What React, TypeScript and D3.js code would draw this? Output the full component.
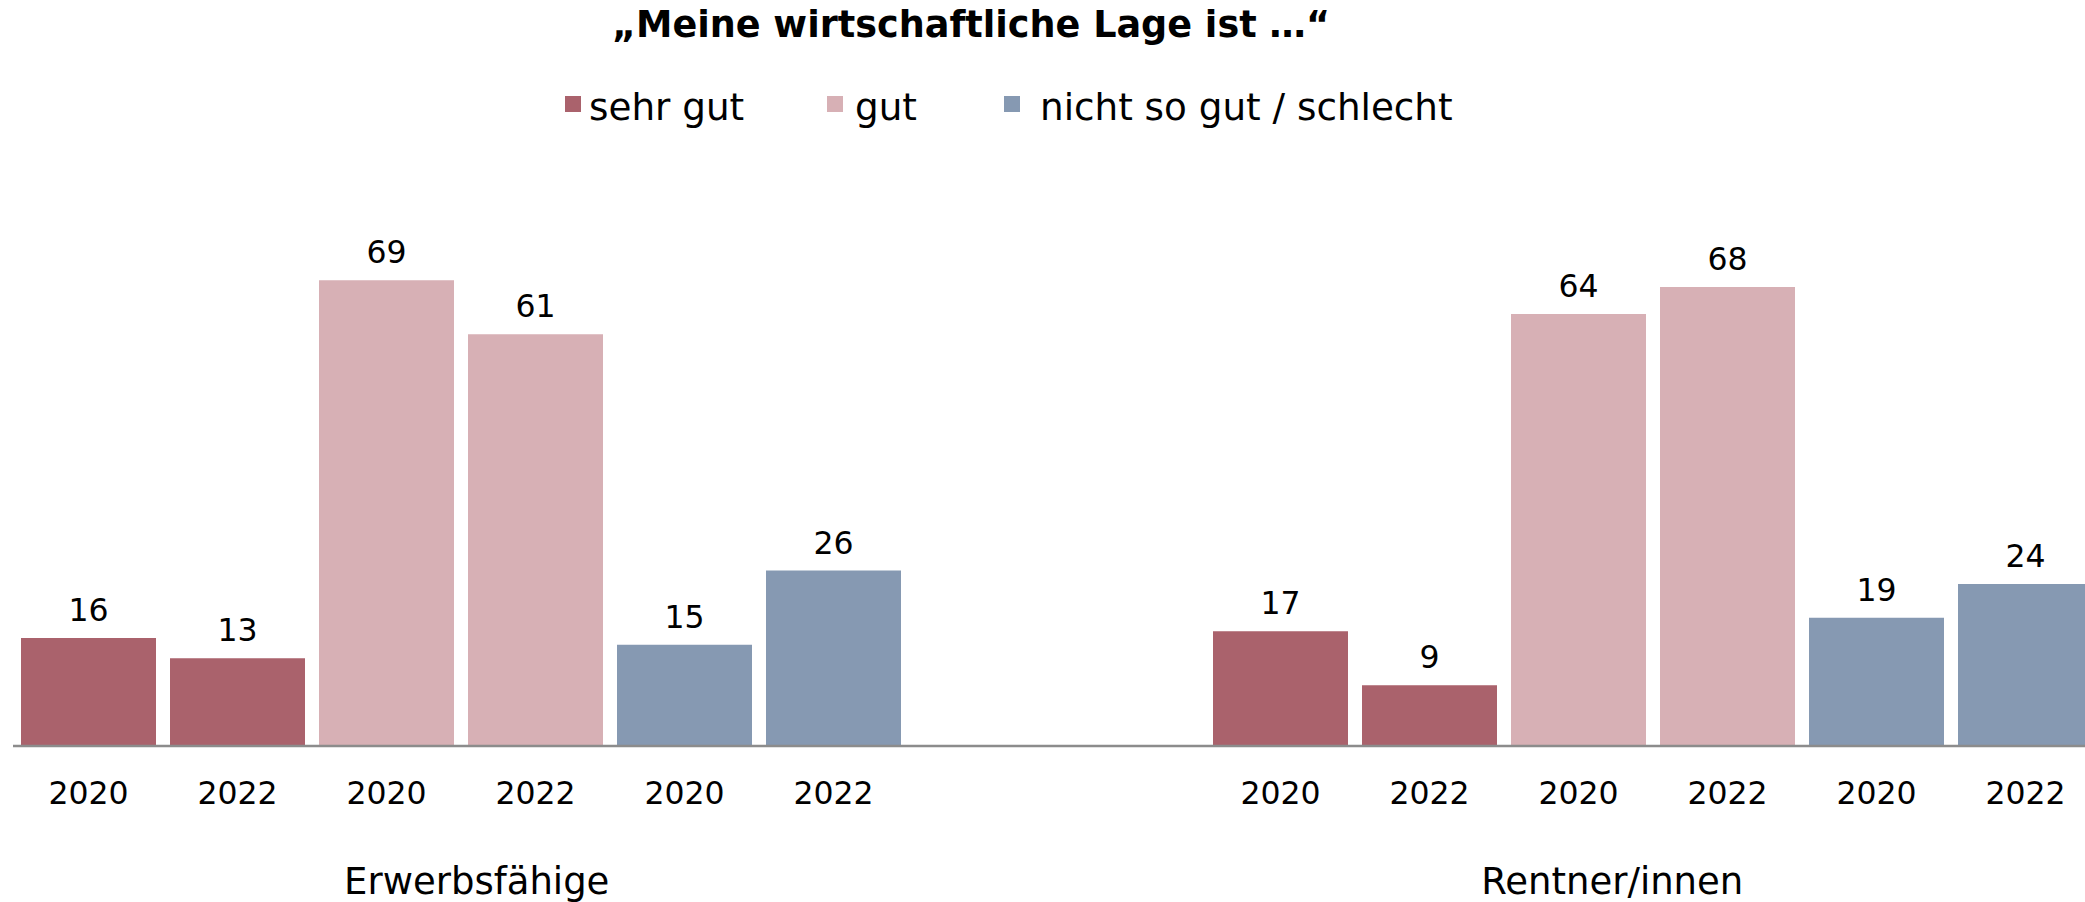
import React from "react";
import * as d3 from "d3";

// ---- data ----
const title = "„Meine wirtschaftliche Lage ist …“";
const categories = ["Erwerbsfähige", "Rentner/innen"];
const years = ["2020", "2022"];
const seriesNames = ["sehr gut", "gut", "nicht so gut / schlecht"];
const seriesColors = ["#aa626c", "#d7b0b5", "#8699b2"];
// values[category][year]
const sehrGutValues = [
  [16, 13],
  [17, 9],
];
const gutValues = [
  [69, 61],
  [64, 68],
];
const schlechtValues = [
  [15, 26],
  [19, 24],
];
const seriesValues = [sehrGutValues, gutValues, schlechtValues];

// ---- layout ----
const W = 2085;
const H = 902;
const FONT = "'DejaVu Sans', Verdana, sans-serif";
const baseY = 746;
const legendTextX = [589, 855, 1040];
const legendGap = [24, 28, 36];

type Bar = { cat: string; key: string; series: number; year: string; value: number };

export default function App() {
  const bars: Bar[] = [];
  categories.forEach((cat, ci) => {
    seriesNames.forEach((_, si) => {
      years.forEach((yr, yi) => {
        bars.push({ cat, key: `${si}-${yi}`, series: si, year: yr, value: seriesValues[si][ci][yi] });
      });
    });
  });
  const innerKeys = seriesNames.flatMap((_, si) => years.map((_, yi) => `${si}-${yi}`));

  const x0 = d3.scaleBand<string>().domain(categories).range([21, 2093]).paddingInner(312 / 1192).paddingOuter(0);
  const x1 = d3.scaleBand<string>().domain(innerKeys).range([0, x0.bandwidth()]).paddingInner(14 / 149).paddingOuter(0);
  const y = d3.scaleLinear().domain([0, 100]).range([baseY, 71]);
  const xLabel = d3.scaleBand<string>().domain(categories).range([-91, 2180]);

  return (
    <svg
      width={W}
      height={H}
      style={{ position: "fixed", left: 0, top: 0, background: "#fff" }}
      fontFamily={FONT}
    >
      <rect x={0} y={0} width={W} height={H} fill="#fff" />
      <text x={971} y={37} textAnchor="middle" fontSize={36.6} fontWeight="bold" fill="#000">
        {title}
      </text>
      {seriesNames.map((name, i) => (
        <g key={name}>
          <rect x={legendTextX[i] - legendGap[i]} y={96} width={16} height={16} fill={seriesColors[i]} />
          <text x={legendTextX[i]} y={120} fontSize={37.3} fill="#000">
            {name}
          </text>
        </g>
      ))}
      {bars.map((b) => {
        const bx = (x0(b.cat) ?? 0) + (x1(b.key) ?? 0);
        const bw = x1.bandwidth();
        const top = y(b.value);
        return (
          <g key={b.cat + b.key}>
            <rect x={bx} y={top} width={bw} height={baseY - top} fill={seriesColors[b.series]} />
            <text x={bx + bw / 2} y={top - 17} textAnchor="middle" fontSize={31.5} fill="#000">
              {b.value}
            </text>
            <text x={bx + bw / 2} y={804} textAnchor="middle" fontSize={31.5} fill="#000">
              {b.year}
            </text>
          </g>
        );
      })}
      <line x1={13} x2={W} y1={baseY} y2={baseY} stroke="#8c8c8c" strokeWidth={2.5} />
      {categories.map((c) => (
        <text key={c} x={(xLabel(c) ?? 0) + xLabel.bandwidth() / 2} y={894} textAnchor="middle" fontSize={37} fill="#000">
          {c}
        </text>
      ))}
    </svg>
  );
}
